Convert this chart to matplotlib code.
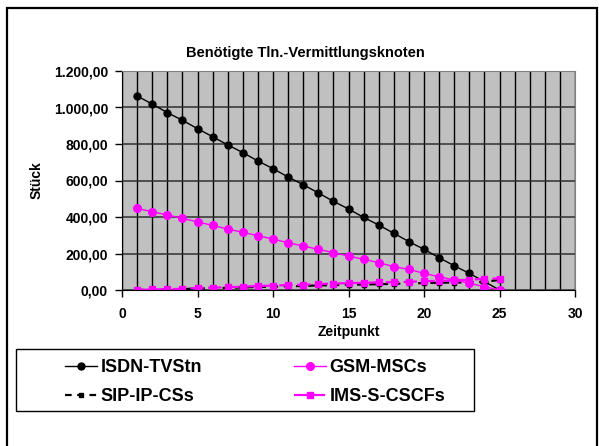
import matplotlib.pyplot as plt
from matplotlib.ticker import FuncFormatter, MultipleLocator
from matplotlib.patches import Rectangle

# Zeitpunkte und Knotenanzahlen
zeitpunkt = list(range(1, 26))
isdn_tvstn = [1063, 1019, 972, 930, 884, 840, 795, 753, 707, 665, 619, 577, 532,
              486, 444, 398, 356, 311, 265, 223, 177, 133, 91, 46, 0]
gsm_mscs = [447, 429, 411, 393, 373, 354, 334, 316, 298, 279, 259, 241, 223,
            205, 186, 168, 150, 128, 113, 91, 73, 55, 37, 18, 0]
sip_ip_css = [0, 2, 3, 5, 8, 10, 12, 14, 17, 18, 21, 22, 25,
              27, 29, 30, 32, 34, 36, 38, 40, 41, 42, 45, 55]
ims_s_cscfs = [0, 3, 4, 7, 11, 13, 15, 18, 22, 24, 27, 29, 32,
               35, 38, 39, 42, 43, 45, 48, 50, 53, 56, 62, 63]

plt.rcParams['font.family'] = ['Liberation Sans', 'DejaVu Sans']
plt.rcParams['font.weight'] = 'bold'

fig = plt.figure(figsize=(5.99, 4.46), dpi=100, facecolor='white')
ax = fig.add_axes([122 / 599, 1 - 290 / 446, 453 / 599, 219 / 446])
ax.set_facecolor('#C0C0C0')

l1, = ax.plot(zeitpunkt, isdn_tvstn, color='black', lw=1, marker='o', ms=5)
l3, = ax.plot(zeitpunkt, sip_ip_css, color='black', lw=1.6, ls=(0, (3, 2.5)),
              marker='s', ms=3.5)
l2, = ax.plot(zeitpunkt, gsm_mscs, color='#FF00FF', lw=1, marker='o', ms=5.5)
l4, = ax.plot(zeitpunkt, ims_s_cscfs, color='#FF00FF', lw=1.6, ls=(0, (6, 2)),
              marker='s', ms=4)

ax.set_xlim(0, 30)
ax.set_ylim(0, 1200)
ax.xaxis.set_major_locator(MultipleLocator(5))
ax.xaxis.set_minor_locator(MultipleLocator(1))
ax.yaxis.set_major_locator(MultipleLocator(200))

ax.grid(which='minor', axis='x', color='black', lw=1)
ax.grid(which='major', axis='x', color='black', lw=1)
ax.grid(which='major', axis='y', color='#303030', lw=1.1)
ax.set_axisbelow(True)


def de_fmt(v, pos):
    s = f'{v:,.2f}'
    return s.replace(',', 'X').replace('.', ',').replace('X', '.')


ax.yaxis.set_major_formatter(FuncFormatter(de_fmt))
ax.xaxis.set_major_formatter(FuncFormatter(lambda v, p: f'{int(v)}'))
ax.tick_params(axis='both', which='major', labelsize=10, length=5, width=1,
               color='black')
ax.tick_params(axis='y', pad=5)
ax.tick_params(axis='x', pad=7)
ax.tick_params(axis='x', which='minor', length=0)
for lbl in ax.get_xticklabels() + ax.get_yticklabels():
    lbl.set_fontweight('bold')

ax.spines['top'].set_color('#808080')
ax.spines['right'].set_color('#808080')
ax.spines['left'].set_color('black')
ax.spines['bottom'].set_color('black')

ax.set_xlabel('Zeitpunkt', fontsize=10, fontweight='bold', labelpad=3)
ax.set_ylabel('Stück', fontsize=10, fontweight='bold')
ax.yaxis.set_label_coords((44 - 122) / 453, 0.5)

fig.text(305 / 599, 1 - 53 / 446, 'Benötigte Tln.-Vermittlungsknoten',
         ha='center', va='center', fontsize=10.5, fontweight='bold')

# Legende ohne eigenen Rahmen, Rahmen separat gezeichnet
leg = fig.legend([l1, l3, l2, l4],
                 ['ISDN-TVStn', 'SIP-IP-CSs', 'GSM-MSCs', 'IMS-S-CSCFs'],
                 ncol=2, loc='center left',
                 bbox_to_anchor=(65 / 599, 1 - 382 / 446),
                 fontsize=13, frameon=False,
                 handlelength=1.75, handletextpad=0.22, columnspacing=5.1,
                 borderaxespad=0, borderpad=0, labelspacing=0.65)
for t in leg.get_texts():
    t.set_fontweight('bold')

fig.patches.append(Rectangle((16 / 599, 1 - 411 / 446), 458 / 599, 62 / 446,
                             transform=fig.transFigure, fill=False,
                             edgecolor='black', lw=1))

# Rahmen um die Diagrammfläche
fig.patches.append(Rectangle((7 / 599, -0.05), 590 / 599, 1 - 8 / 446 + 0.05,
                             transform=fig.transFigure, fill=False,
                             edgecolor='black', lw=1.6))

fig.savefig('out.png', dpi=100, facecolor='white')
